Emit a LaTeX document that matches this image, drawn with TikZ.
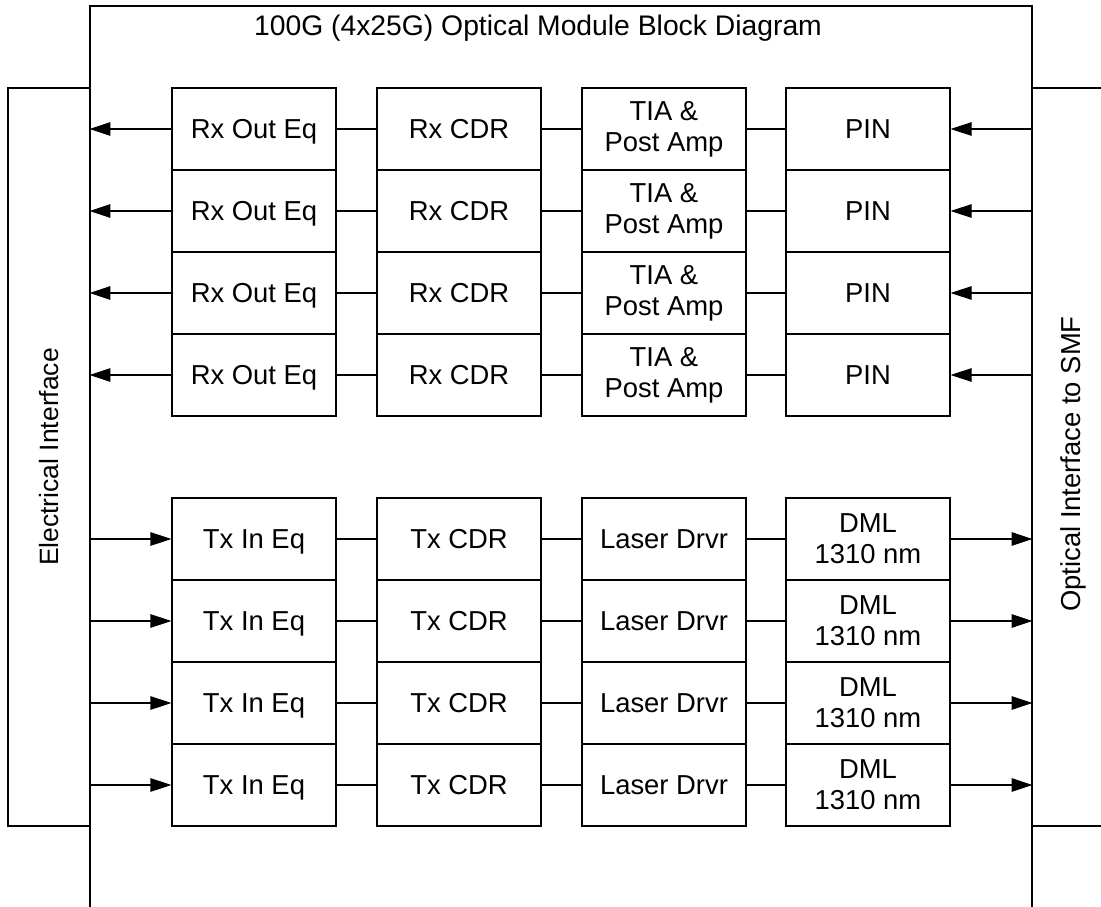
\documentclass[tikz,border=0pt]{standalone}
\usepackage{fontspec}
\setmainfont{Liberation Sans}
\usetikzlibrary{arrows.meta}

\tikzset{
  wire/.style={line width=1.1pt},
  sig/.style={wire, -{Triangle[length=21pt,width=13.5pt]}},
  blk/.style={draw, wire, minimum width=164pt, minimum height=82pt, inner sep=0pt,
    text height=19.6pt, text depth=0pt, font=\fontsize{27.4}{31}\selectfont},
  blktwo/.style={blk, align=center, text height=, text depth=},
  lbl/.style={font=\fontsize{27.4}{31}\selectfont}
}

\begin{document}
\begin{tikzpicture}[x=1pt,y=-1pt]
      \useasboundingbox (0,0) rectangle (1101,907);

      % module outline and the two interfaces
      \node[draw, wire, minimum width=942pt, minimum height=901.5pt, inner sep=0pt] (module) at (561,456.75) {};
      \node[lbl, font=\fontsize{28.3}{32}\selectfont] (title) at (538,28) {100G (4x25G) Optical Module Block Diagram};
      \node[draw, wire, lbl, font=\fontsize{26.5}{31}\selectfont, minimum width=738pt, minimum height=82pt, inner sep=0pt, rotate=90] (elec) at (49,457) {Electrical Interface};
      \draw[wire] (1032,88) -- (1101,88);
      \draw[wire] (1032,826) -- (1101,826);
      \node[lbl, rotate=90] (optic) at (1073,464) {Optical Interface to SMF};

      % receive lanes
      \foreach \i/\y in {1/129,2/211,3/293,4/375} {
        \node[blk] (rxeq\i) at (254,\y) {Rx Out Eq};
        \node[blk] (rxcdr\i) at (459,\y) {Rx CDR};
        \node[blktwo] (tia\i) at (664,\y) {TIA \&\\Post Amp};
        \node[blk] (pin\i) at (868,\y) {PIN};
        \draw[wire] (rxeq\i) -- (rxcdr\i);
        \draw[wire] (rxcdr\i) -- (tia\i);
        \draw[wire] (tia\i) -- (pin\i);
        \draw[sig] (rxeq\i.west) -- (rxeq\i.west -| module.west);
        \draw[sig] (pin\i.east -| module.east) -- (pin\i.east);
      }

      % transmit lanes
      \foreach \i/\y in {1/539,2/621,3/703,4/785} {
        \node[blk] (txeq\i) at (254,\y) {Tx In Eq};
        \node[blk] (txcdr\i) at (459,\y) {Tx CDR};
        \node[blk] (drv\i) at (664,\y) {Laser Drvr};
        \node[blktwo] (dml\i) at (868,\y) {DML\\1310 nm};
        \draw[wire] (txeq\i) -- (txcdr\i);
        \draw[wire] (txcdr\i) -- (drv\i);
        \draw[wire] (drv\i) -- (dml\i);
        \draw[sig] (txeq\i.west -| module.west) -- (txeq\i.west);
        \draw[sig] (dml\i.east) -- (dml\i.east -| module.east);
      }
    \end{tikzpicture}
\end{document}
